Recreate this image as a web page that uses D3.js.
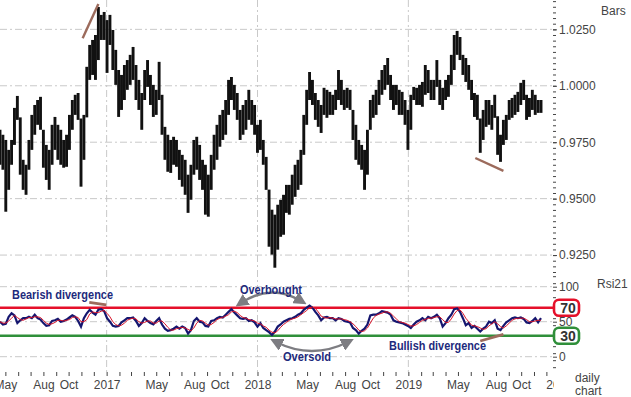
<!DOCTYPE html>
<html>
<head>
<meta charset="utf-8">
<script src="https://cdn.jsdelivr.net/npm/d3@7"></script>
<style>
    body { margin: 0; background: #fff; }
    svg { display: block; font-family: Arial, "Liberation Sans", sans-serif; }
</style>
</head>
<body>
<svg id="chart" width="631" height="397"></svg>
<script>

// weekly bars, Monday 2016-04-18 .. Monday 2019-11-18
var barHigh = [
    0.9805,0.9783,0.9760,0.9716,0.9760,0.9902,0.9955,0.9860,0.9672,0.9650,
    0.9760,0.9871,0.9915,0.9937,0.9951,0.9805,0.9738,0.9716,0.9827,0.9862,
    0.9827,0.9805,0.9760,0.9783,0.9871,0.9937,0.9960,0.9968,0.9855,0.9871,
    1.0084,1.0181,1.0203,1.0225,1.0349,1.0314,1.0327,1.0291,1.0314,1.0247,
    1.0159,1.0070,1.0048,1.0092,1.0114,1.0137,1.0172,1.0092,1.0026,0.9968,
    1.0070,1.0114,1.0048,1.0004,0.9982,1.0106,0.9960,0.9818,0.9783,0.9760,
    0.9774,0.9760,0.9716,0.9694,0.9672,0.9606,0.9650,0.9760,0.9774,0.9738,
    0.9672,0.9650,0.9606,0.9694,0.9783,0.9827,0.9871,0.9893,0.9937,1.0026,
    1.0039,1.0004,0.9968,0.9893,0.9915,0.9937,0.9982,0.9937,0.9915,0.9827,
    0.9849,0.9760,0.9685,0.9540,0.9451,0.9429,0.9473,0.9495,0.9517,0.9561,
    0.9561,0.9606,0.9650,0.9672,0.9716,0.9871,0.9982,1.0061,1.0026,0.9968,
    0.9937,0.9915,0.9991,0.9982,0.9973,0.9960,0.9982,1.0070,1.0026,0.9982,
    0.9991,0.9982,0.9893,0.9827,0.9760,0.9738,0.9716,0.9805,0.9937,0.9960,
    0.9982,1.0026,1.0070,1.0092,1.0123,1.0048,1.0004,1.0004,0.9982,0.9973,
    0.9937,0.9893,0.9960,0.9995,0.9991,1.0004,1.0017,1.0092,1.0070,1.0026,
    1.0026,1.0114,1.0026,0.9991,1.0026,1.0048,1.0137,1.0225,1.0243,1.0216,
    1.0137,1.0123,1.0092,1.0026,0.9968,0.9960,0.9855,0.9893,0.9937,0.9937,
    0.9915,0.9960,0.9865,0.9783,0.9849,0.9871,0.9937,0.9946,0.9960,0.9973,
    1.0013,1.0026,0.9960,0.9946,0.9982,0.9960,0.9937,0.9937
];
var barLow = [
    0.9650,0.9628,0.9442,0.9539,0.9650,0.9738,0.9849,0.9606,0.9539,0.9517,
    0.9628,0.9716,0.9783,0.9827,0.9805,0.9637,0.9583,0.9539,0.9650,0.9716,
    0.9672,0.9650,0.9637,0.9641,0.9716,0.9805,0.9871,0.9849,0.9553,0.9672,
    0.9860,1.0026,1.0048,1.0026,1.0114,1.0203,1.0203,1.0057,1.0181,1.0070,
    1.0004,0.9862,0.9893,0.9937,0.9982,1.0004,1.0026,0.9937,0.9893,0.9805,
    0.9937,0.9995,0.9915,0.9862,0.9871,0.9937,0.9783,0.9672,0.9619,0.9614,
    0.9650,0.9641,0.9583,0.9553,0.9517,0.9437,0.9495,0.9606,0.9628,0.9583,
    0.9539,0.9429,0.9420,0.9539,0.9628,0.9672,0.9730,0.9760,0.9783,0.9871,
    0.9937,0.9893,0.9849,0.9760,0.9783,0.9805,0.9849,0.9827,0.9783,0.9703,
    0.9716,0.9650,0.9539,0.9287,0.9252,0.9194,0.9274,0.9331,0.9340,0.9437,
    0.9429,0.9473,0.9508,0.9539,0.9561,0.9694,0.9827,0.9937,0.9915,0.9849,
    0.9818,0.9791,0.9871,0.9858,0.9871,0.9871,0.9893,0.9937,0.9915,0.9893,
    0.9902,0.9893,0.9760,0.9672,0.9650,0.9628,0.9539,0.9606,0.9805,0.9858,
    0.9871,0.9915,0.9960,0.9982,1.0004,0.9937,0.9893,0.9915,0.9871,0.9871,
    0.9827,0.9716,0.9805,0.9937,0.9915,0.9915,0.9907,0.9960,0.9968,0.9937,
    0.9937,0.9995,0.9915,0.9893,0.9937,0.9951,1.0004,1.0070,1.0137,1.0114,
    1.0048,1.0017,0.9982,0.9937,0.9862,0.9849,0.9703,0.9760,0.9818,0.9827,
    0.9805,0.9858,0.9694,0.9663,0.9738,0.9760,0.9849,0.9858,0.9871,0.9884,
    0.9915,0.9937,0.9849,0.9862,0.9893,0.9871,0.9880,0.9880
];
var rsi21 = [
    50,46,47,57,62,59,48,52,55,55, 57,55,60,55,53,48,44,45,51,52,
    54,50,51,53,56,59,57,51,43,55, 62,67,63,60,67,68,65,55,50,44,
    43,44,49,52,55,55,56,51,44,48, 55,51,48,46,51,55,46,40,37,38,
    40,43,40,43,41,33,38,51,55,50, 49,44,43,51,52,55,57,56,60,64,
    68,63,59,55,54,55,51,52,49,43, 48,41,38,35,31,36,43,46,50,52,
    54,55,57,60,62,67,70,73,70,64, 59,52,56,57,55,55,52,55,54,51,
    50,49,41,38,33,37,40,46,59,60, 60,62,65,64,63,60,52,50,49,48,
    46,44,41,46,50,52,55,52,57,55, 57,60,55,43,48,55,60,68,69,64,
    55,45,48,41,44,40,36,40,43,50, 48,52,40,38,44,49,52,55,56,55,
    56,54,49,48,51,55,49,55
];
var rsiSignal = [
    50,48,48,51,55,59,56,53,52,54, 56,56,57,57,56,52,48,46,47,49,
    52,52,51,52,53,56,57,56,50,50, 53,61,64,63,63,65,66,62,57,50,
    46,44,45,48,52,54,55,54,50,48, 49,51,51,48,48,51,51,47,42,38,
    38,40,41,42,41,39,37,41,48,52, 51,48,45,46,49,53,55,56,58,60,
    64,65,63,59,56,55,53,52,51,48, 47,44,42,38,35,34,37,42,46,49,
    52,54,55,57,60,63,66,70,71,69, 64,58,56,55,56,55,54,54,54,53,
    52,50,47,43,38,36,37,41,48,55, 59,61,62,64,64,62,58,54,50,49,
    48,46,44,44,46,49,52,53,55,55, 56,57,57,53,49,49,54,61,66,67,
    62,55,50,45,44,43,41,39,40,44, 47,50,47,43,41,44,48,52,54,55,
    55,55,53,50,50,51,52,52
];

var priceTicks = [0.925, 0.95, 0.975, 1.0, 1.025];
var rsiTicks = [0, 50, 100];
var rsiLevels = [70, 30];
var monthLabels = { 4: 'May', 7: 'Aug', 9: 'Oct' };

var weeks = d3.utcMonday.range(new Date(Date.UTC(2016, 3, 18)), new Date(Date.UTC(2019, 10, 19)));

var svg = d3.select('#chart');
var plotRight = 553;

var x = d3.scaleUtc()
    .domain([new Date(Date.UTC(2016, 3, 18)), new Date(Date.UTC(2019, 11, 17))])
    .range([0, plotRight]);
var y = d3.scaleLinear().domain([0.9175, 1.038]).range([272, 0]);
var yr = d3.scaleLinear().domain([0, 100]).range([356.7, 286.7]);

var defs = svg.append('defs');
// clip in the bottom axis' own coordinates (it is translated to y=372)
defs.append('clipPath').attr('id', 'xclip')
    .append('rect').attr('x', -10).attr('y', -5).attr('width', 564).attr('height', 30);
defs.append('marker')
    .attr('id', 'ah')
    .attr('viewBox', '0 0 10 10')
    .attr('refX', 5).attr('refY', 5)
    .attr('markerWidth', 5.4).attr('markerHeight', 5.4)
    .attr('orient', 'auto-start-reverse')
    .append('path').attr('d', 'M0,0 L10,5 L0,10 z').attr('fill', '#7d7d82');

// grid
var dash = '7,3,2,3';
svg.append('g').selectAll('line').data(priceTicks).enter().append('line')
    .attr('x1', 0).attr('x2', plotRight)
    .attr('y1', function (d) { return y(d); }).attr('y2', function (d) { return y(d); })
    .attr('stroke', '#c9c9c9').attr('stroke-dasharray', dash);
svg.append('g').selectAll('line').data(rsiTicks).enter().append('line')
    .attr('x1', 0).attr('x2', plotRight)
    .attr('y1', function (d) { return yr(d); }).attr('y2', function (d) { return yr(d); })
    .attr('stroke', '#c9c9c9').attr('stroke-dasharray', dash);
svg.append('g').selectAll('line').data(d3.utcYear.range(x.domain()[0], x.domain()[1])).enter().append('line')
    .attr('x1', function (d) { return x(d); }).attr('x2', function (d) { return x(d); })
    .attr('y1', 0).attr('y2', 372)
    .attr('stroke', '#c9c9c9').attr('stroke-dasharray', dash);

// price bars
svg.append('g').selectAll('line').data(weeks).enter().append('line')
    .attr('x1', function (d) { return x(d); }).attr('x2', function (d) { return x(d); })
    .attr('y1', function (d, i) { return y(barHigh[i]); })
    .attr('y2', function (d, i) { return y(barLow[i]); })
    .attr('stroke', '#111').attr('stroke-width', 2.9);

// rsi levels
var levelColor = { 70: '#e5102a', 30: '#2f8f3a' };
svg.append('g').selectAll('line').data(rsiLevels).enter().append('line')
    .attr('x1', 0).attr('x2', plotRight + 2)
    .attr('y1', function (d) { return yr(d); }).attr('y2', function (d) { return yr(d); })
    .attr('stroke', function (d) { return levelColor[d]; }).attr('stroke-width', 2.5);

var rsiLine = d3.line()
    .x(function (d) { return x(d); });
svg.append('path')
    .attr('d', rsiLine.y(function (d, i) { return yr(rsi21[i]); })(weeks))
    .attr('fill', 'none').attr('stroke', '#15166f').attr('stroke-width', 2.2);
svg.append('path')
    .attr('d', rsiLine.y(function (d, i) { return yr(rsiSignal[i]); })(weeks))
    .attr('fill', 'none').attr('stroke', '#d8142a').attr('stroke-width', 1);

// right axes
function styleAxis(g) {
    g.select('.domain').remove();
    g.selectAll('line').attr('stroke', '#444');
    g.selectAll('text').attr('fill', '#444').attr('font-size', 12);
}
svg.append('g').attr('transform', 'translate(' + plotRight + ',0)')
    .call(d3.axisRight(y).tickValues(d3.range(0.9175, 1.038, 0.0025)).tickSize(3).tickFormat(''))
    .call(styleAxis);
svg.append('g').attr('transform', 'translate(' + plotRight + ',0)')
    .call(d3.axisRight(y).tickValues(priceTicks).tickSize(4).tickPadding(2).tickFormat(d3.format('.4f')))
    .call(styleAxis);
svg.append('g').attr('transform', 'translate(' + plotRight + ',0)')
    .call(d3.axisRight(yr).tickValues(d3.range(-15, 120, 10)).tickSize(3).tickFormat(''))
    .call(styleAxis);
svg.append('g').attr('transform', 'translate(' + plotRight + ',0)')
    .call(d3.axisRight(yr).tickValues(rsiTicks).tickSize(4).tickPadding(2))
    .call(styleAxis);

// level boxes, drawn over the rsi axis
var boxes = svg.append('g').selectAll('g').data(rsiLevels).enter().append('g');
boxes.append('rect')
    .attr('x', 554).attr('y', function (d) { return yr(d) - 8; })
    .attr('width', 25).attr('height', 16).attr('rx', 5)
    .attr('fill', '#fff').attr('stroke', function (d) { return levelColor[d]; }).attr('stroke-width', 2.6);
boxes.append('text')
    .attr('x', 568).attr('y', function (d) { return yr(d) + 5; })
    .attr('text-anchor', 'middle').attr('font-size', 14).attr('font-weight', 'bold').attr('fill', '#333')
    .text(function (d) { return d; });

// bottom axis; the 2020 label runs past the plot edge and is cut like in the original
svg.append('g').attr('transform', 'translate(0,372)').attr('clip-path', 'url(#xclip)')
    .call(d3.axisBottom(x)
        .tickValues(d3.utcMonth.range(x.domain()[0], new Date(Date.UTC(2020, 0, 2))))
        .tickSize(4).tickPadding(4)
        .tickFormat(function (d) {
            var m = d.getUTCMonth();
            return m === 0 ? d.getUTCFullYear() : (monthLabels[m] || '');
        }))
    .call(styleAxis);

svg.append('text').attr('x', 601).attr('y', 15).attr('font-size', 12).attr('fill', '#444').text('Bars');
svg.append('text').attr('x', 597).attr('y', 288).attr('font-size', 12).attr('fill', '#444').text('Rsi21');
svg.append('text').attr('x', 575).attr('y', 382).attr('font-size', 12).attr('fill', '#444').text('daily');
svg.append('text').attr('x', 575).attr('y', 395).attr('font-size', 12).attr('fill', '#444').text('chart');

// divergence lines
var brown = '#9c6b5c';
var upperDiv = [
    [[Date.UTC(2016, 10, 4), 1.0210], [Date.UTC(2016, 11, 12), 1.0362]],
    [[Date.UTC(2019, 5, 12), 0.9680], [Date.UTC(2019, 7, 19), 0.9623]]
];
var rsiDiv = [
    [[Date.UTC(2016, 10, 20), 77.7], [Date.UTC(2016, 11, 31), 73.9]],
    [[Date.UTC(2019, 5, 24), 22.4], [Date.UTC(2019, 7, 19), 32]]
];
svg.append('g').selectAll('line').data(upperDiv).enter().append('line')
    .attr('x1', function (d) { return x(d[0][0]); }).attr('y1', function (d) { return y(d[0][1]); })
    .attr('x2', function (d) { return x(d[1][0]); }).attr('y2', function (d) { return y(d[1][1]); })
    .attr('stroke', brown).attr('stroke-width', 2.4);
svg.append('g').selectAll('line').data(rsiDiv).enter().append('line')
    .attr('x1', function (d) { return x(d[0][0]); }).attr('y1', function (d) { return yr(d[0][1]); })
    .attr('x2', function (d) { return x(d[1][0]); }).attr('y2', function (d) { return yr(d[1][1]); })
    .attr('stroke', brown).attr('stroke-width', 2.8);

// arrows
svg.append('path').attr('d', 'M241,303 Q271,283 301,301')
    .attr('fill', 'none').attr('stroke', '#7d7d82').attr('stroke-width', 2.4)
    .attr('marker-start', 'url(#ah)').attr('marker-end', 'url(#ah)');
svg.append('path').attr('d', 'M276,342 Q312,360 348,342')
    .attr('fill', 'none').attr('stroke', '#7d7d82').attr('stroke-width', 2.4)
    .attr('marker-start', 'url(#ah)').attr('marker-end', 'url(#ah)');

// notes
var notes = [
    { t: 'Bearish divergence', x: 12, y: 299, w: 101 },
    { t: 'Overbought', x: 240, y: 294, w: 62 },
    { t: 'Oversold', x: 283, y: 361, w: 48 },
    { t: 'Bullish divergence', x: 389, y: 350, w: 97 }
];
svg.append('g').selectAll('text').data(notes).enter().append('text')
    .attr('x', function (d) { return d.x; }).attr('y', function (d) { return d.y; })
    .attr('textLength', function (d) { return d.w; }).attr('lengthAdjust', 'spacingAndGlyphs')
    .attr('font-family', '"Liberation Sans Narrow", "Arial Narrow", Arial, sans-serif')
    .attr('font-size', 13).attr('font-weight', 'bold').attr('fill', '#1d2a7c')
    .text(function (d) { return d.t; });

</script>
</body>
</html>
